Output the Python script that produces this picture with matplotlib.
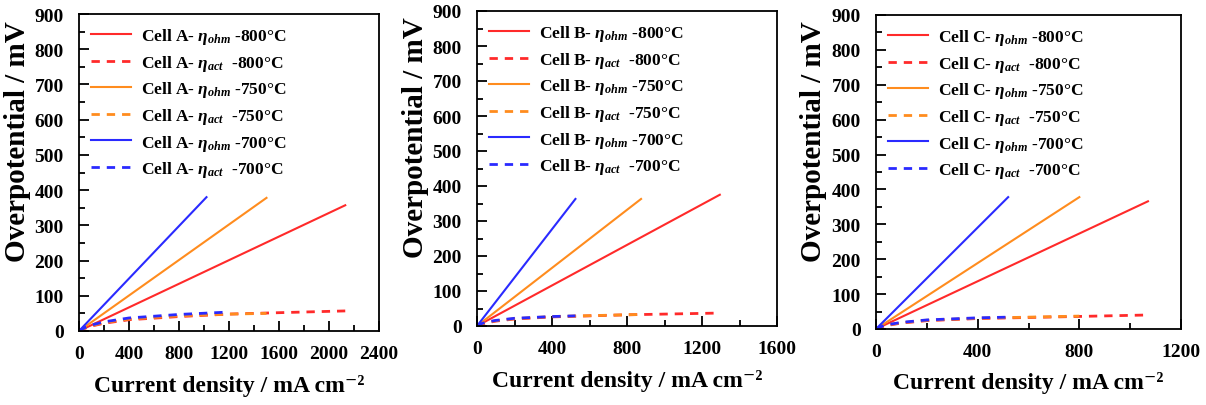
import numpy as np
import matplotlib.pyplot as plt
from matplotlib.ticker import MultipleLocator

plt.rcParams['font.family'] = ['Liberation Serif', 'DejaVu Serif']
plt.rcParams['font.weight'] = 'bold'
plt.rcParams['mathtext.fontset'] = 'custom'
plt.rcParams['mathtext.it'] = 'Liberation Serif:italic'
plt.rcParams['mathtext.rm'] = 'Liberation Serif'

# cell names, temperatures, colours
cells = ['A', 'B', 'C']
temps = ['800', '750', '700']
colors = ['#ff2a2a', '#ff8c1e', '#2a2aff']
xmax = [2400, 1600, 1200]
xstep = [400, 400, 400]

# ohmic overpotential: (end current, end overpotential) per temperature
ohm_end_i = [[2130, 1500, 1020], [1295, 875, 525], [1070, 800, 520]]
ohm_end_v = [[357, 378, 380], [375, 363, 363], [366, 378, 378]]

# activation overpotential, read points per panel / temperature
act_i = [
    [[0, 50, 100, 200, 400, 800, 1200, 1600, 2130],
     [0, 50, 100, 200, 400, 800, 1200, 1500],
     [0, 50, 100, 200, 400, 800, 1150]],
    [[0, 25, 50, 100, 200, 400, 800, 1295],
     [0, 25, 50, 100, 200, 400, 875],
     [0, 25, 50, 100, 200, 400, 525]],
    [[0, 25, 50, 100, 200, 400, 800, 1060],
     [0, 25, 50, 100, 200, 400, 800],
     [0, 25, 50, 100, 200, 400, 520]],
]
act_v = [
    [[0, 8, 14, 22, 32, 41, 48, 52, 57],
     [0, 9, 15, 24, 34, 43, 48, 50],
     [0, 10, 17, 26, 37, 47, 53]],
    [[0, 5, 9, 14, 20, 26, 32, 37],
     [0, 6, 10, 15, 21, 27, 33],
     [0, 7, 11, 16, 22, 27, 29]],
    [[0, 7, 11, 17, 24, 30, 36, 40],
     [0, 8, 12, 18, 25, 31, 37],
     [0, 8, 13, 19, 26, 32, 34]],
]

# axes boxes in pixels: left, bottom(from top), width, height
boxes = [(79, 332, 300, 317), (477, 327, 300, 315), (876, 330, 305, 314)]

fig = plt.figure(figsize=(12.06, 4.06), dpi=100)
for k in range(3):
    l, b, w, h = boxes[k]
    ax = fig.add_axes([l / 1206, (406 - b) / 406, w / 1206, h / 406])
    for t in range(3):
        ax.plot([0, ohm_end_i[k][t]], [0, ohm_end_v[k][t]], color=colors[t], lw=1.5,
                label='Cell %s- $\\eta_{ohm}$ -%s°C' % (cells[k], temps[t]))
        ax.plot(act_i[k][t], act_v[k][t], color=colors[t], lw=2, ls=(0, (3, 2.5)),
                label='Cell %s- $\\eta_{act}$  -%s°C' % (cells[k], temps[t]))
    ax.set_xlim(0, xmax[k])
    ax.set_ylim(0, 900)
    ax.xaxis.set_major_locator(MultipleLocator(xstep[k]))
    ax.xaxis.set_minor_locator(MultipleLocator(xstep[k] / 2))
    ax.yaxis.set_major_locator(MultipleLocator(100))
    ax.yaxis.set_minor_locator(MultipleLocator(50))
    ax.tick_params(which='both', direction='in', width=1.3, labelsize=14)
    ax.tick_params(axis='x', pad=10)
    ax.tick_params(axis='y', pad=11)
    ax.tick_params(which='major', length=7)
    ax.tick_params(which='minor', length=4)
    for s in ax.spines.values():
        s.set_linewidth(1.3)
    ax.set_xlabel('Current density / mA cm⁻²', fontsize=17, fontweight='bold')
    ax.xaxis.set_label_coords(0.5, -0.135)
    ax.set_ylabel('Overpotential / mV', fontsize=21, fontweight='bold')
    ax.yaxis.set_label_coords(-0.16, 0.60)
    leg = ax.legend(loc='upper left', frameon=False, fontsize=12.5, handlelength=2.3,
                    labelspacing=0.38, borderaxespad=0.3, handletextpad=0.6)

fig.savefig('out.png', dpi=100)
